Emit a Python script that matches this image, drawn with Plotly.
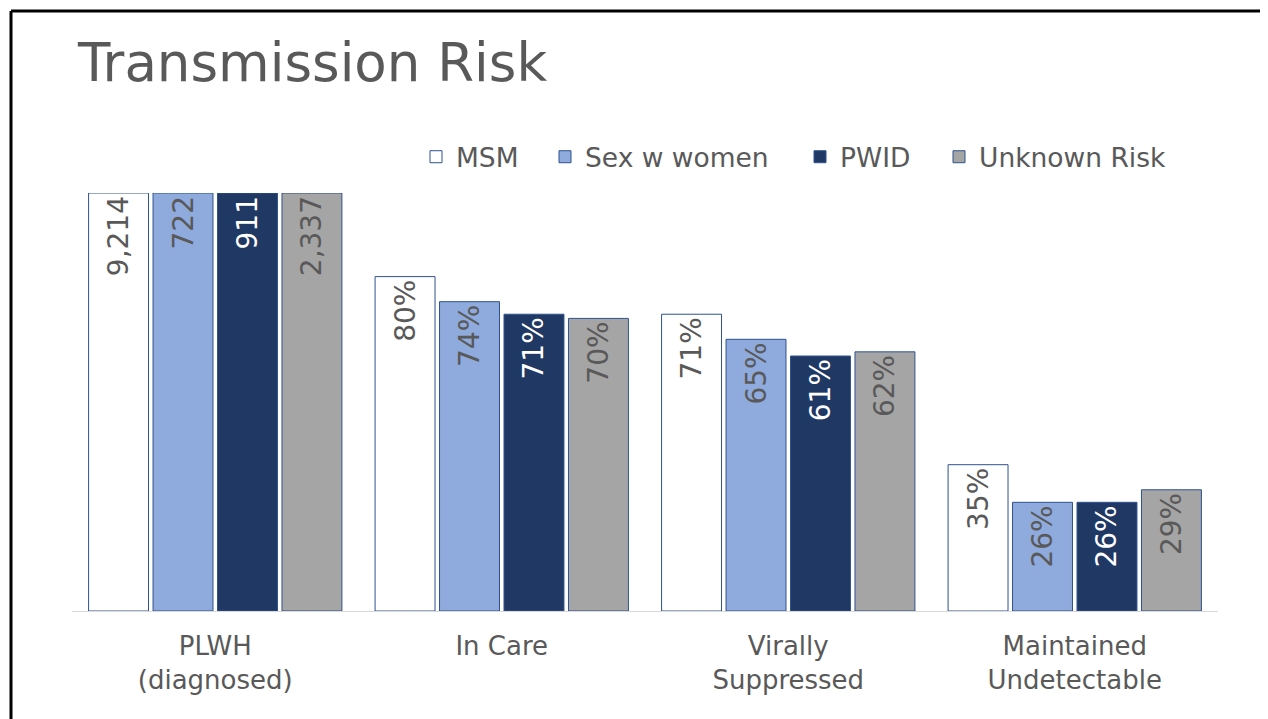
import plotly.graph_objects as go

categories = ["PLWH<br>(diagnosed)", "In Care", "Virally<br>Suppressed", "Maintained<br>Undetectable"]
series_names = ["MSM", "Sex w women", "PWID", "Unknown Risk"]
# bar heights as % of PLWH (diagnosed)
msm = [100, 80, 71, 35]
sex_w_women = [100, 74, 65, 26]
pwid = [100, 71, 61, 26]
unknown = [100, 70, 62, 29]
msm_labels = ["9,214", "80%", "71%", "35%"]
sex_w_women_labels = ["722", "74%", "65%", "26%"]
pwid_labels = ["911", "71%", "61%", "26%"]
unknown_labels = ["2,337", "70%", "62%", "29%"]

values = [msm, sex_w_women, pwid, unknown]
labels = [msm_labels, sex_w_women_labels, pwid_labels, unknown_labels]
fills = ["#FFFFFF", "#8FAADC", "#203864", "#A5A5A5"]
text_colors = ["#595959", "#595959", "#FFFFFF", "#595959"]
legend_ids = ["legend", "legend2", "legend3", "legend4"]
legend_sq_center = [436, 565, 820, 959]  # page px

FONT = "DejaVu Sans"
OFF = 8  # default body margin of the html page
W, H = 1268 - OFF, 719 - OFF
L = 72 - OFF
R = W - (1218 - OFF)
T = 193 - OFF
B = H - (611 - OFF)
pw, ph = W - L - R, H - T - B


def px_x(page_x):
    return (page_x - OFF - L) / pw


def px_y(page_y):
    return (H - B - (page_y - OFF)) / ph


fig = go.Figure()
for name, v, lab, fc, tc, lg in zip(series_names, values, labels, fills, text_colors, legend_ids):
    fig.add_trace(go.Bar(
        name=name, x=categories, y=v, text=lab,
        textposition="inside", insidetextanchor="end", textangle=-90,
        constraintext="none",
        textfont=dict(family=FONT, size=28, color=tc),
        marker=dict(color=fc, line=dict(color="#2F528F", width=1)),
        hoverinfo="skip", legend=lg,
    ))

legend_layouts = {}
for lg, cx in zip(legend_ids, legend_sq_center):
    legend_layouts[lg] = dict(
        orientation="h", x=px_x(cx - 20), xanchor="left", y=px_y(157), yanchor="middle",
        font=dict(family=FONT, size=26.5, color="#595959"),
        itemwidth=30, bgcolor="rgba(0,0,0,0)", borderwidth=0,
    )

fig.update_layout(
    width=W, height=H,
    margin=dict(l=L, r=R, t=T, b=B),
    paper_bgcolor="white", plot_bgcolor="white",
    barmode="group", bargap=0.1, bargroupgap=0.07,
    title=dict(text="Transmission Risk", x=(78 - OFF) / W, xanchor="left", xref="container",
               y=1 - (62 - OFF) / H, yanchor="middle", yref="container",
               font=dict(family=FONT, size=53, color="#595959")),
    xaxis=dict(showline=True, linecolor="#D9D9D9", linewidth=1, showgrid=False,
               ticks="", ticklabelstandoff=12,
               tickfont=dict(family=FONT, size=26, color="#595959")),
    yaxis=dict(range=[0, 100], visible=False, showgrid=False, zeroline=False),
    showlegend=True,
    shapes=[
        dict(type="line", xref="paper", yref="paper", x0=px_x(11), x1=px_x(1275),
             y0=px_y(11), y1=px_y(11), line=dict(color="black", width=3)),
        dict(type="line", xref="paper", yref="paper", x0=px_x(11), x1=px_x(11),
             y0=px_y(11), y1=px_y(725), line=dict(color="black", width=3)),
    ],
    **legend_layouts,
)

fig.write_html("out.html")
